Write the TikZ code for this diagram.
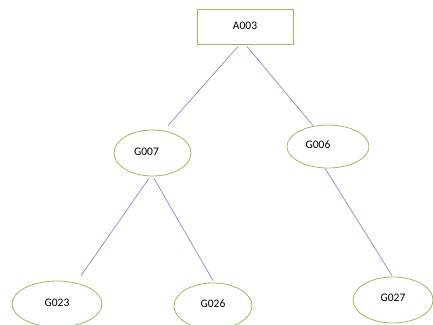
\documentclass[tikz,border=0pt]{standalone}
\usepackage{fontspec}
\setmainfont{Carlito}
\usetikzlibrary{shapes.geometric}
\definecolor{shapegreen}{RGB}{155,187,89}
\definecolor{edgeblue}{RGB}{125,145,205}
\tikzset{
  every node/.style={font=\fontsize{11.5}{13}\selectfont},
  rectbox/.style={draw=shapegreen, line width=0.8pt, rectangle, inner sep=0pt, fill=white},
  ellbox/.style={draw=shapegreen, line width=0.8pt, ellipse, inner sep=0pt, fill=white},
  edge/.style={draw=edgeblue, line width=0.7pt}
}
\begin{document}
\begin{tikzpicture}[x=1pt,y=-1pt]
\useasboundingbox (0,0) rectangle (433,324);
\node[rectbox, minimum width=96pt, minimum height=35pt] (a003) at (245,26.5) {\raisebox{2pt}{A003}};
\node[ellbox, minimum width=77pt, minimum height=46pt] (g007) at (152.5,153) {\hspace*{-12pt}\raisebox{3pt}{G007}};
\node[ellbox, minimum width=82pt, minimum height=43pt] (g006) at (328,146.5) {\hspace*{-20pt}\raisebox{3pt}{G006}};
\node[ellbox, minimum width=90pt, minimum height=46pt] (g023) at (57,304) {\raisebox{3pt}{G023}};
\node[ellbox, minimum width=78pt, minimum height=46pt] (g026) at (213,306) {\raisebox{4pt}{G026}};
\node[ellbox, minimum width=80pt, minimum height=46pt] (g027) at (393,300) {\raisebox{4pt}{G027}};
\draw[edge] ([shift={(-7,2)}]a003.south) -- ([shift={(15.5,-4)}]g007.north);
\draw[edge] ([shift={(2,2)}]a003.south) -- ([shift={(-15,1)}]g006.north);
\draw[edge] ([shift={(-3.5,2)}]g007.south) -- ([shift={(24,-5)}]g023.north);
\draw[edge] ([shift={(1.5,2)}]g007.south) -- ([shift={(0,-2)}]g026.north);
\draw[edge] ([shift={(-3,0)}]g006.south) -- ([shift={(-1,-1)}]g027.north);
\end{tikzpicture}
\end{document}
